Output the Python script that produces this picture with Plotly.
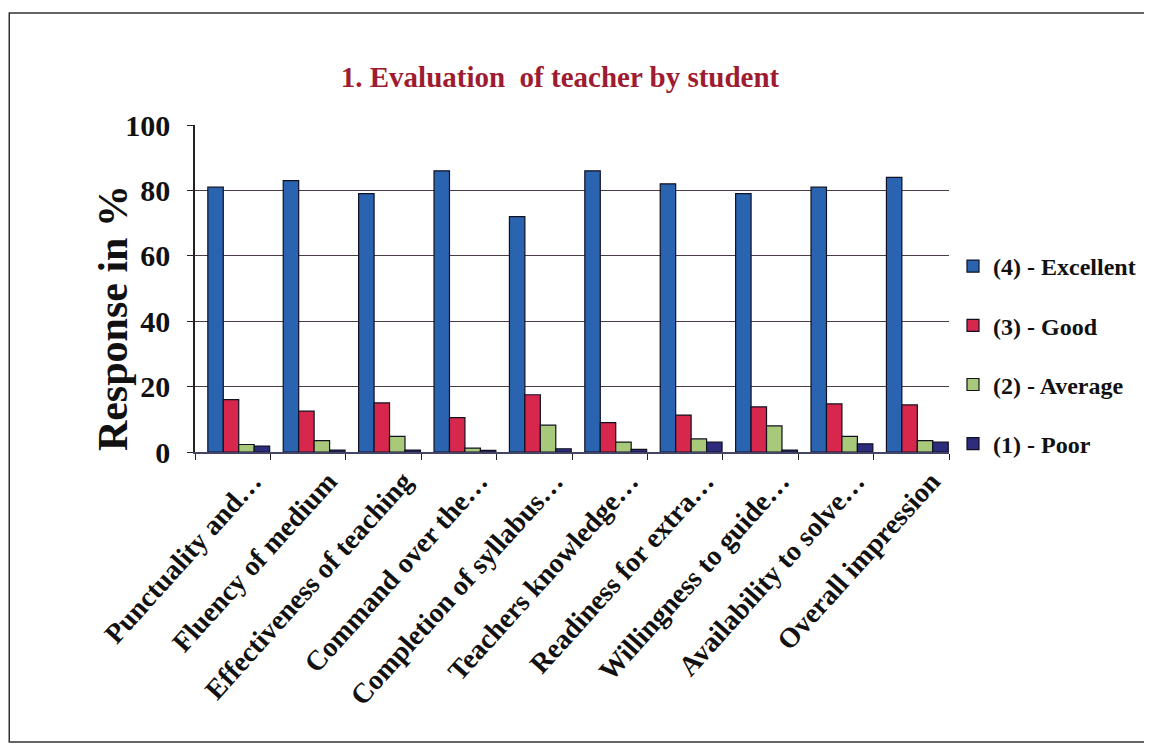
import plotly.graph_objects as go

categories = ["Punctuality and…", "Fluency of medium", "Effectiveness of teaching",
              "Command over the…", "Completion of syllabus…", "Teachers knowledge…",
              "Readiness for extra…", "Willingness to guide…", "Availability to solve…",
              "Overall impression"]
excellent = [81, 83, 79, 86, 72, 86, 82, 79, 81, 84]
good = [16, 12.5, 15, 10.5, 17.5, 9, 11.3, 13.8, 14.7, 14.4]
average = [2.3, 3.5, 4.8, 1.2, 8.2, 3, 4, 8, 4.8, 3.5]
poor = [1.8, 0.6, 0.6, 0.5, 1, 0.8, 3, 0.6, 2.5, 3]

series_names = ["(4) - Excellent", "(3) - Good", "(2) - Average", "(1) - Poor"]
series_values = [excellent, good, average, poor]
series_colors = ["#2A63AF", "#D8274D", "#A9C97A", "#2E2C7C"]

SERIF = "Liberation Serif"

# page has an 8px body margin; plot area should sit at page x 195..950, y 125..452
W, H = 1144, 737
PL, PR, PT, PB = 195, 950, 125, 452


def px(xp):
    return (xp - PL) / (PR - PL)


def py(yp):
    return (PB - yp) / (PB - PT)


BAR_W = 0.205
SHIFT = 0.08
fig = go.Figure()
for i, (name, vals, col) in enumerate(zip(series_names, series_values, series_colors)):
    fig.add_trace(go.Bar(
        x=categories, y=vals, name=name, legendgroup=f"g{i}",
        width=BAR_W, offset=SHIFT - 2 * BAR_W + i * BAR_W,
        marker=dict(color=col, line=dict(color="#111122", width=1.2)),
    ))

fig.update_layout(
    width=W, height=H,
    paper_bgcolor="white", plot_bgcolor="white",
    barmode="overlay",
    margin=dict(l=PL - 8, r=W - (PR - 8), t=PT - 8, b=H - (PB - 8)),
    font=dict(family=SERIF, color="#111111"),
    title=dict(text="<b>1. Evaluation  of teacher by student</b>",
               x=(560 - 8) / W, xanchor="center", y=1 - (77 - 8) / H, yanchor="middle",
               font=dict(family=SERIF, size=29, color="#9E1B32")),
    legend=dict(x=px(953), xanchor="left", y=py(355), yanchor="middle",
                font=dict(family=SERIF, size=24, weight="bold", color="#111111"),
                tracegroupgap=25, itemwidth=30, bgcolor="rgba(0,0,0,0)"),
    showlegend=True,
)

fig.update_yaxes(
    range=[0, 100], dtick=20,
    showgrid=True, gridcolor="#4a3a4a", gridwidth=1.2,
    showline=True, linecolor="#222222", linewidth=1.5,
    ticks="outside", ticklen=6, tickcolor="#222222", ticklabelstandoff=11,
    tickfont=dict(family=SERIF, size=30, weight="bold", color="#111111"),
    zeroline=False,
)
fig.update_xaxes(
    range=[-0.5, 9.5],
    showline=True, linecolor="#444466", linewidth=1.5,
    ticks="outside", ticklen=6, tickcolor="#222222", tickson="boundaries",
    tickangle=-48, ticklabelshift=20,
    tickfont=dict(family=SERIF, size=28, weight="bold", color="#111111"),
    showgrid=False,
)

# y-axis title
fig.add_annotation(text="<b>Response in %</b>", xref="paper", yref="paper",
                   x=px(113), y=py(318), xanchor="center", yanchor="middle",
                   textangle=-90, showarrow=False,
                   font=dict(family=SERIF, size=42, color="#111111"))

# outer frame of the chart
fig.add_shape(type="rect", xref="paper", yref="paper",
              x0=px(9), x1=px(1149), y0=py(742), y1=py(13),
              line=dict(color="#333333", width=1.5), fillcolor="rgba(0,0,0,0)", layer="below")

fig.write_html("out.html")
